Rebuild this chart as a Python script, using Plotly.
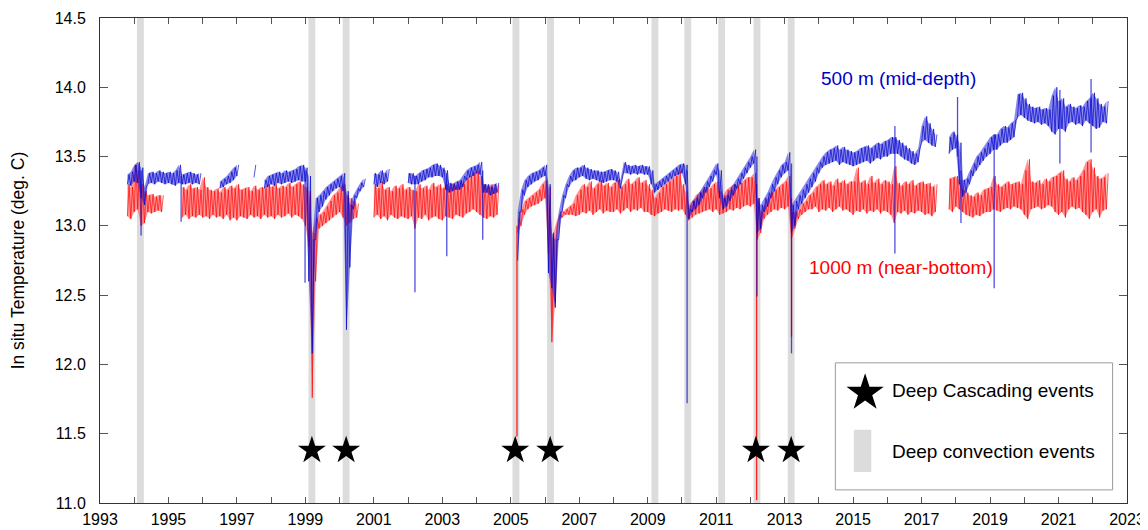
import plotly.graph_objects as go

N = None
T0 = 1993.0      # first sample time (years)
STEP = 0.1       # sample spacing (years)

# 500 m (mid-depth) temperature envelope, low / high per 0.1-yr sample (one row per year)
BLUE_LO = [
    N, N, N, N, N, N, N, N, 13.30, 13.29,
    13.32, 13.31, 13.20, 13.15, 13.30, 13.31, 13.30, 13.32, 13.31, 13.30,
    13.31, 13.30, 13.29, 13.31, 13.30, 13.30, 13.31, 13.30, 13.31, 13.30,
    N, N, N, N, N, 13.27, 13.28, 13.30, 13.31, 13.33,
    13.36, N, N, N, N, 13.35, N, N, 13.27, 13.28,
    13.30, 13.29, 13.31, 13.30, 13.31, 13.32, 13.31, 13.32, 13.33, 13.32,
    13.32, 12.60, 12.08, 12.90, 13.10, 13.14, 13.19, 13.22, 13.25, 13.27,
    13.28, 13.25, 12.25, 12.70, 13.12, 13.20, 13.25, 13.28, N, N,
    13.30, 13.28, 13.31, 13.30, 13.32, N, N, N, N, N,
    13.31, 13.30, 13.30, 13.30, 13.32, 13.33, 13.35, 13.35, 13.36, 13.36,
    13.35, 13.26, 13.24, 13.25, 13.26, 13.26, 13.28, 13.33, 13.35, 13.36,
    13.38, 13.37, 13.24, 13.24, 13.22, 13.23, 13.24, N, N, N,
    N, N, 12.75, 13.10, 13.22, 13.28, 13.30, 13.32, 13.33, 13.35,
    13.36, 12.66, 12.55, 12.41, 12.90, 13.10, 13.20, 13.28, 13.32, 13.33,
    13.35, 13.36, 13.34, 13.33, 13.34, 13.33, 13.32, 13.31, 13.32, 13.33,
    13.33, 13.32, 13.27, 13.38, 13.38, 13.37, 13.38, 13.37, 13.38, 13.37,
    13.37, 13.30, 13.24, 13.26, 13.28, 13.30, 13.32, 13.34, 13.36, 13.37,
    13.38, 13.30, 13.05, 13.10, 13.12, 13.15, 13.20, 13.24, 13.28, 13.32,
    13.37, 13.20, 13.12, 13.14, 13.18, 13.22, 13.27, 13.30, 13.34, 13.38,
    13.42, 13.45, 12.95, 12.98, 13.10, 13.14, 13.20, 13.25, 13.30, 13.35,
    13.38, 13.40, 12.95, 13.00, 13.12, 13.16, 13.20, 13.24, 13.28, 13.32,
    13.38, 13.42, 13.44, 13.45, 13.46, 13.47, 13.44, 13.46, 13.45, 13.44,
    13.43, 13.44, 13.45, 13.46, 13.47, 13.45, 13.47, 13.49, 13.48, 13.50,
    13.50, 13.52, 13.52, 13.52, 13.50, 13.48, 13.47, 13.45, 13.44, 13.46,
    13.60, 13.62, 13.60, 13.58, 13.57, N, N, N, 13.52, 13.55,
    13.56, 13.30, 13.21, 13.24, 13.30, 13.36, 13.40, 13.44, 13.47, 13.50,
    13.52, 13.55, 13.55, 13.58, 13.60, 13.60, 13.62, 13.64, 13.78, 13.80,
    13.78, 13.76, 13.75, 13.74, 13.75, 13.73, 13.74, 13.72, 13.68, 13.66,
    13.70, 13.70, 13.68, 13.74, 13.75, 13.73, 13.74, 13.72, 13.76, 13.74,
    13.72, 13.70, 13.71, 13.75, 13.74,
]
BLUE_HI = [
    N, N, N, N, N, N, N, N, 13.37, 13.39,
    13.44, 13.46, 13.42, 13.28, 13.38, 13.39, 13.38, 13.40, 13.39, 13.38,
    13.39, 13.38, 13.40, 13.44, 13.37, 13.38, 13.39, 13.38, 13.37, 13.38,
    N, N, N, N, N, 13.32, 13.34, 13.36, 13.39, 13.42,
    13.44, N, N, N, N, 13.44, N, N, 13.33, 13.36,
    13.37, 13.38, 13.39, 13.38, 13.40, 13.39, 13.40, 13.41, 13.43, 13.44,
    13.42, 13.36, 12.90, 13.20, 13.22, 13.25, 13.28, 13.30, 13.32, 13.34,
    13.36, 13.38, 13.25, 13.15, 13.22, 13.27, 13.31, 13.34, N, N,
    13.38, 13.37, 13.40, 13.38, 13.41, N, N, N, N, N,
    13.38, 13.38, 13.36, 13.38, 13.40, 13.41, 13.42, 13.44, 13.45, 13.44,
    13.42, 13.40, 13.31, 13.30, 13.32, 13.33, 13.36, 13.40, 13.42, 13.43,
    13.44, 13.46, 13.30, 13.30, 13.28, 13.30, 13.31, N, N, N,
    N, N, 13.10, 13.26, 13.33, 13.36, 13.38, 13.39, 13.40, 13.42,
    13.44, 13.30, 12.95, 12.90, 13.10, 13.22, 13.30, 13.36, 13.40, 13.42,
    13.42, 13.44, 13.42, 13.41, 13.40, 13.40, 13.39, 13.39, 13.40, 13.41,
    13.40, 13.39, 13.33, 13.46, 13.44, 13.43, 13.44, 13.43, 13.44, 13.43,
    13.43, 13.40, 13.30, 13.32, 13.34, 13.36, 13.38, 13.40, 13.42, 13.44,
    13.45, 13.44, 13.12, 13.18, 13.20, 13.24, 13.28, 13.32, 13.36, 13.40,
    13.45, 13.40, 13.20, 13.22, 13.26, 13.30, 13.34, 13.38, 13.42, 13.46,
    13.50, 13.55, 13.20, 13.15, 13.20, 13.24, 13.30, 13.35, 13.40, 13.44,
    13.46, 13.53, 13.15, 13.18, 13.22, 13.26, 13.30, 13.34, 13.38, 13.42,
    13.46, 13.50, 13.53, 13.55, 13.56, 13.58, 13.55, 13.57, 13.55, 13.54,
    13.53, 13.54, 13.56, 13.57, 13.58, 13.56, 13.58, 13.60, 13.59, 13.61,
    13.62, 13.64, 13.64, 13.62, 13.60, 13.58, 13.56, 13.54, 13.52, 13.56,
    13.72, 13.79, 13.74, 13.70, 13.66, N, N, N, 13.64, 13.68,
    13.66, 13.60, 13.33, 13.34, 13.40, 13.45, 13.50, 13.53, 13.56, 13.60,
    13.64, 13.66, 13.66, 13.70, 13.72, 13.71, 13.74, 13.76, 13.95, 13.96,
    13.92, 13.88, 13.86, 13.85, 13.86, 13.84, 13.85, 13.84, 13.94, 14.00,
    13.90, 13.92, 13.86, 13.88, 13.86, 13.85, 13.87, 13.86, 13.90, 13.92,
    13.96, 13.92, 13.88, 13.86, 13.90,
]
# isolated short excursions of the 500 m record: time, lowest, highest
BLUE_SPIKE_T = [1994.20, 1995.37, 1998.99, 2002.20, 2003.13, 2004.18, 2010.15, 2012.19, 2013.20,
                2016.22, 2018.05, 2018.15, 2019.12, 2021.04, 2021.95]
BLUE_SPIKE_LO = [12.93, 13.03, 12.59, 12.52, 12.78, 12.90, 11.72, 12.49, 12.08,
                 12.80, 13.50, 13.02, 12.55, 13.45, 13.53]
BLUE_SPIKE_HI = [13.40, 13.36, 13.40, 13.36, 13.38, 13.40, 13.40, 13.50, 13.45,
                 13.72, 13.93, 13.40, 13.66, 13.98, 14.06]

# 1000 m (near-bottom) temperature envelope
RED_LO = [
    N, N, N, N, N, N, N, N, 13.07, 13.05,
    13.10, 13.12, 13.00, 13.02, 13.10, 13.09, 13.10, 13.11, 13.10, N,
    N, N, N, N, 13.06, 13.08, 13.05, 13.07, 13.06, 13.08,
    13.06, 13.07, 13.05, 13.08, 13.06, 13.07, 13.05, 13.08, 13.04, 13.06,
    13.04, 13.07, 13.06, 13.05, 13.08, 13.06, 13.07, 13.05, 13.08, 13.06,
    13.07, 13.05, 13.08, 13.06, 13.07, 13.09, 13.06, 13.08, 13.07, 13.05,
    13.00, 12.85, 11.76, 12.60, 12.98, 13.00, 13.02, 13.04, 13.06, 13.08,
    13.10, 13.06, 13.00, 13.02, 13.05, 13.06, N, N, N, N,
    13.06, 13.08, 13.05, 13.07, 13.04, 13.08, 13.06, 13.05, 13.07, 13.06,
    13.05, 13.07, 12.98, 13.06, 13.05, 13.08, 13.04, 13.06, 13.07, 13.05,
    13.04, 13.07, 13.06, 13.05, 13.08, 13.07, 13.06, 13.09, 13.10, 13.12,
    13.10, 13.08, 13.06, 13.05, 13.07, 13.06, 13.08, N, N, N,
    N, N, 12.95, 13.00, 13.08, 13.12, 13.14, 13.15, 13.16, 13.18,
    13.20, 12.80, 12.16, 12.45, 13.04, 13.06, 13.08, 13.08, 13.08, 13.07,
    13.08, 13.10, 13.09, 13.11, 13.08, 13.10, 13.12, 13.09, 13.11, 13.10,
    13.10, 13.12, 13.09, 13.11, 13.13, 13.10, 13.12, 13.11, 13.13, 13.10,
    13.10, 13.08, 13.07, 13.09, 13.10, 13.12, 13.11, 13.10, 13.12, 13.11,
    13.12, 13.08, 13.04, 13.06, 13.08, 13.09, 13.10, 13.11, 13.12, 13.10,
    13.12, 13.08, 13.09, 13.10, 13.12, 13.11, 13.13, 13.12, 13.14, 13.15,
    13.14, 13.16, 12.90, 12.95, 13.05, 13.08, 13.10, 13.12, 13.11, 13.13,
    13.12, 13.14, 12.90, 12.98, 13.05, 13.08, 13.10, 13.12, 13.12, 13.14,
    13.10, 13.12, 13.11, 13.13, 13.10, 13.12, 13.14, 13.11, 13.12, 13.10,
    13.08, 13.11, 13.10, 13.12, 13.09, 13.11, 13.10, 13.12, 13.09, 13.11,
    13.10, 13.08, 13.02, 13.10, 13.09, 13.11, 13.08, 13.10, 13.09, 13.11,
    13.10, 13.08, 13.09, 13.07, 13.10, N, N, N, 13.12, 13.10,
    13.14, 13.12, 13.10, 13.08, 13.07, 13.06, 13.08, 13.07, 13.09, 13.10,
    13.10, 13.12, 13.11, 13.10, 13.12, 13.13, 13.12, 13.14, 13.13, 13.12,
    13.08, 13.05, 13.12, 13.13, 13.14, 13.12, 13.13, 13.15, 13.14, 13.10,
    13.08, 13.10, 13.06, 13.12, 13.14, 13.12, 13.13, 13.10, 13.08, 13.05,
    13.10, 13.12, 13.06, 13.11, 13.12,
]
RED_HI = [
    N, N, N, N, N, N, N, N, 13.30, 13.28,
    13.44, 13.40, 13.30, 13.25, 13.22, 13.23, 13.21, 13.22, 13.22, N,
    N, N, N, N, 13.28, 13.26, 13.30, 13.27, 13.28, 13.26,
    13.35, 13.28, 13.26, 13.25, 13.27, 13.24, 13.28, 13.26, 13.29, 13.27,
    13.30, 13.26, 13.27, 13.28, 13.25, 13.29, 13.26, 13.28, 13.27, 13.30,
    13.28, 13.30, 13.27, 13.29, 13.28, 13.31, 13.28, 13.30, 13.32, 13.30,
    13.28, 13.25, 12.95, 13.05, 13.08, 13.10, 13.14, 13.18, 13.22, 13.24,
    13.28, 13.30, 13.22, 13.20, 13.18, 13.16, N, N, N, N,
    13.30, 13.27, 13.32, 13.26, 13.28, 13.25, 13.29, 13.27, 13.30, 13.26,
    13.28, 13.26, 13.25, 13.30, 13.27, 13.29, 13.26, 13.31, 13.28, 13.30,
    13.27, 13.30, 13.28, 13.31, 13.29, 13.32, 13.30, 13.34, 13.36, 13.38,
    13.40, 13.36, 13.30, 13.28, 13.30, 13.27, 13.29, N, N, N,
    N, N, 13.05, 13.12, 13.18, 13.20, 13.22, 13.24, 13.26, 13.30,
    13.33, 13.28, 12.90, 13.00, 13.08, 13.10, 13.12, 13.14, 13.16, 13.22,
    13.26, 13.30, 13.28, 13.32, 13.27, 13.30, 13.33, 13.29, 13.31, 13.28,
    13.31, 13.33, 13.28, 13.30, 13.34, 13.30, 13.32, 13.35, 13.31, 13.33,
    13.30, 13.26, 13.20, 13.24, 13.28, 13.30, 13.32, 13.34, 13.36, 13.40,
    13.30, 13.25, 13.15, 13.18, 13.22, 13.24, 13.26, 13.28, 13.27, 13.30,
    13.32, 13.25, 13.22, 13.26, 13.28, 13.30, 13.29, 13.31, 13.33, 13.35,
    13.35, 13.38, 13.20, 13.10, 13.15, 13.20, 13.24, 13.26, 13.28, 13.30,
    13.32, 13.36, 13.10, 13.10, 13.12, 13.16, 13.18, 13.22, 13.24, 13.28,
    13.30, 13.33, 13.30, 13.32, 13.29, 13.34, 13.31, 13.33, 13.30, 13.32,
    13.32, 13.42, 13.31, 13.33, 13.30, 13.36, 13.31, 13.34, 13.30, 13.33,
    13.32, 13.30, 13.43, 13.31, 13.29, 13.32, 13.30, 13.33, 13.29, 13.31,
    13.32, 13.30, 13.31, 13.28, 13.30, N, N, N, 13.34, 13.35,
    13.36, 13.33, 13.26, 13.24, 13.22, 13.21, 13.24, 13.22, 13.26, 13.27,
    13.28, 13.36, 13.30, 13.28, 13.30, 13.32, 13.30, 13.31, 13.32, 13.30,
    13.40, 13.48, 13.32, 13.31, 13.33, 13.30, 13.34, 13.32, 13.35, 13.36,
    13.38, 13.40, 13.34, 13.32, 13.35, 13.33, 13.36, 13.40, 13.46, 13.48,
    13.42, 13.36, 13.34, 13.35, 13.38,
]
RED_SPIKE_T = [2005.18, 2012.18, 2013.20]
RED_SPIKE_LO = [11.48, 11.02, 12.20]
RED_SPIKE_HI = [13.00, 13.30, 13.20]

CONVECTION_YEARS = [1994.18, 1999.19, 2000.19, 2005.15, 2006.16, 2009.21, 2010.17, 2011.16, 2012.19, 2013.19]
CASCADING_YEARS = [1999.19, 2000.19, 2005.13, 2006.15, 2012.16, 2013.19]
STAR_LEVEL = 11.38
BAR_WIDTH = 0.2

LABEL_500 = "500 m (mid-depth)"
LABEL_1000 = "1000 m (near-bottom)"
LEGEND_STAR = "Deep Cascading events"
LEGEND_BAR = "Deep convection events"
Y_TITLE = "In situ Temperature (deg. C)"

FONT = "Arial, Liberation Sans, sans-serif"


def band(lo, hi):
    """Closed polygon (per contiguous segment) between the low and high envelope."""
    xs, ys = [], []
    seg = []

    def flush():
        if seg:
            xs.extend([s[0] for s in seg] + [s[0] for s in reversed(seg)])
            ys.extend([s[1] for s in seg] + [s[2] for s in reversed(seg)])
            xs.append(None)
            ys.append(None)
        seg.clear()

    for i, (a, b) in enumerate(zip(lo, hi)):
        if a is None or b is None:
            flush()
        else:
            seg.append((T0 + i * STEP, a, b))
    flush()
    return xs, ys


def zigzag(lo, hi):
    xs, ys = [], []
    for i, (a, b) in enumerate(zip(lo, hi)):
        t = T0 + i * STEP
        if a is None or b is None:
            xs.append(None)
            ys.append(None)
            continue
        xs += [t, t + STEP / 2]
        ys += [a, b]
    return xs, ys


def spikes(ts, los, his):
    xs, ys = [], []
    for t, a, b in zip(ts, los, his):
        xs += [t, t, None]
        ys += [a, b, None]
    return xs, ys


fig = go.Figure()

shapes = []
for yr in CONVECTION_YEARS:
    shapes.append(dict(type="rect", xref="x", yref="y", x0=yr - BAR_WIDTH / 2, x1=yr + BAR_WIDTH / 2,
                       y0=11.0, y1=14.5, fillcolor="#dcdcdc", line=dict(width=0), layer="below"))

series = [
    (RED_LO, RED_HI, RED_SPIKE_T, RED_SPIKE_LO, RED_SPIKE_HI,
     "rgba(255,60,60,0.55)", "rgba(255,0,0,0.95)", "rgba(255,0,0,0.85)"),
    (BLUE_LO, BLUE_HI, BLUE_SPIKE_T, BLUE_SPIKE_LO, BLUE_SPIKE_HI,
     "rgba(40,40,220,0.55)", "rgba(0,0,200,0.95)", "rgba(20,20,210,0.75)"),
]
for lo, hi, st, slo, shi, fillc, linec, spikec in series:
    px, py = band(lo, hi)
    fig.add_trace(go.Scatter(x=px, y=py, mode="lines", fill="toself", fillcolor=fillc,
                             line=dict(width=0, color=fillc), showlegend=False, hoverinfo="skip"))
    zx, zy = zigzag(lo, hi)
    fig.add_trace(go.Scatter(x=zx, y=zy, mode="lines", line=dict(color=linec, width=0.7),
                             connectgaps=False, showlegend=False, hoverinfo="skip"))
    sx, sy = spikes(st, slo, shi)
    fig.add_trace(go.Scatter(x=sx, y=sy, mode="lines", line=dict(color=spikec, width=1.3),
                             showlegend=False, hoverinfo="skip"))

fig.add_trace(go.Scatter(x=CASCADING_YEARS, y=[STAR_LEVEL] * len(CASCADING_YEARS), mode="markers",
                         marker=dict(symbol="star", size=21, color="black", line=dict(width=0)),
                         showlegend=False, hoverinfo="skip"))

# custom legend box
shapes.append(dict(type="rect", xref="paper", yref="paper", x0=0.716, x1=0.986, y0=0.027, y1=0.289,
                   fillcolor="white", line=dict(color="#9a9a9a", width=1), layer="below"))
shapes.append(dict(type="rect", xref="paper", yref="paper", x0=0.734, x1=0.751, y0=0.064, y1=0.151,
                   fillcolor="#dcdcdc", line=dict(width=0), layer="below"))

fig.add_trace(go.Scatter(x=[0.745], y=[0.227], xaxis="x2", yaxis="y2", mode="markers",
                         marker=dict(symbol="star", size=28, color="black", line=dict(width=0)),
                         showlegend=False, hoverinfo="skip"))

annotations = [
    dict(text=LABEL_500, x=2014.0, y=14.067, xref="x", yref="y", xanchor="left", yanchor="middle",
         showarrow=False, font=dict(family=FONT, size=19, color="#0000c8")),
    dict(text=LABEL_1000, x=2013.65, y=12.696, xref="x", yref="y", xanchor="left", yanchor="middle",
         showarrow=False, font=dict(family=FONT, size=19, color="#ff0000")),
    dict(text=LEGEND_STAR, x=0.769, y=0.232, xref="paper", yref="paper", xanchor="left", yanchor="middle",
         showarrow=False, font=dict(family=FONT, size=19, color="black")),
    dict(text=LEGEND_BAR, x=0.769, y=0.106, xref="paper", yref="paper", xanchor="left", yanchor="middle",
         showarrow=False, font=dict(family=FONT, size=19, color="black")),
    dict(text=Y_TITLE, x=-0.080, y=0.5, xref="paper", yref="paper", textangle=-90,
         xanchor="center", yanchor="middle", showarrow=False, font=dict(family=FONT, size=17.5, color="black")),
]

# the page body adds an 8 px offset, so the figure is 8 px smaller and the margins compensate
fig.update_layout(
    width=1140, height=522,
    margin=dict(l=92, r=21, t=10, b=27, autoexpand=False),
    paper_bgcolor="white", plot_bgcolor="white",
    font=dict(family=FONT, size=16, color="black"),
    shapes=shapes, annotations=annotations,
    showlegend=False,
    xaxis=dict(range=[1993, 2023], tickmode="linear", tick0=1993, dtick=2, ticks="inside", ticklen=6,
               tickcolor="#555", showline=True, linecolor="#333", linewidth=1, mirror="allticks",
               showgrid=False, zeroline=False, tickfont=dict(size=16), automargin=False,
               ticklabelstandoff=2,
               minor=dict(dtick=1, tick0=1993, ticks="inside", ticklen=6, tickcolor="#555", showgrid=False)),
    yaxis=dict(range=[11.0, 14.5], tickmode="linear", tick0=11.0, dtick=0.5, tickformat=".1f",
               ticks="inside", ticklen=8, tickcolor="#555", showline=True, linecolor="#333", linewidth=1,
               mirror="allticks", showgrid=False, zeroline=False, tickfont=dict(size=16), automargin=False,
               ticklabelstandoff=10),
    xaxis2=dict(range=[0, 1], overlaying="x", visible=False),
    yaxis2=dict(range=[0, 1], overlaying="y", visible=False),
)

fig.write_html("out.html")
